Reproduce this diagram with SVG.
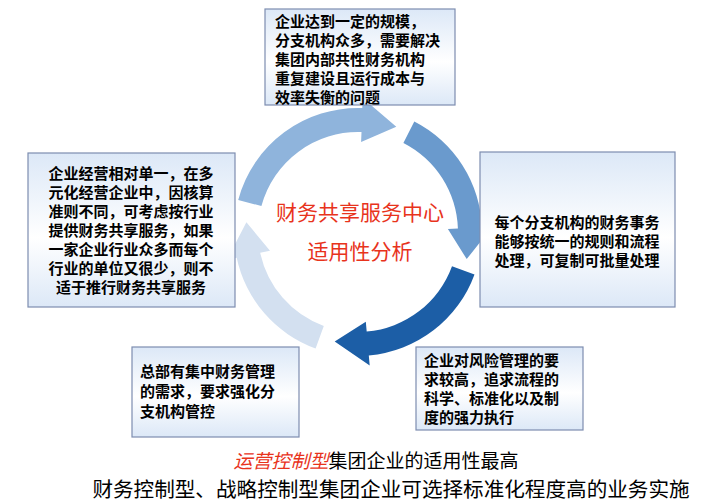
<svg xmlns="http://www.w3.org/2000/svg" width="705" height="502" viewBox="0 0 705 502">
<defs>
<linearGradient id="bg" x1="0" y1="0" x2="0" y2="1"><stop offset="0" stop-color="#dce8f7"/><stop offset="0.55" stop-color="#ffffff"/><stop offset="1" stop-color="#dce8f7"/></linearGradient>
<style>
.box{fill:url(#bg);stroke:#7d8db0;stroke-width:1.2}
.t{font-family:"Noto Sans CJK SC",sans-serif;font-weight:bold;font-size:15px;fill:#000}
.c{font-family:"Noto Sans CJK SC",sans-serif;font-size:21px;fill:#e8331c}
.b{font-family:"Noto Sans CJK SC",sans-serif;font-size:19px;fill:#000}
</style>
</defs>
<g id="connectors">
<path d="M238.2,199.9 A124,124 0 0 1 362.3,108.1 L362.7,98.1 L396.3,126.8 L361.1,142.1 L361.5,132.1 A100,100 0 0 0 261.4,206.1 Z" fill="#8fb4dc"/>
<path d="M414.3,121.5 A124,124 0 0 1 481.9,227.7 L491.9,227.3 L466.7,259.1 L447.9,228.9 L457.9,228.5 A100,100 0 0 0 403.4,142.9 Z" fill="#6a9acd"/>
<path d="M474.5,274.4 A124,124 0 0 1 368.8,355.5 L369.7,365.5 L334.7,341.5 L365.8,321.7 L366.7,331.6 A100,100 0 0 0 452.0,266.2 Z" fill="#1c5ea6"/>
<path d="M315.6,348.5 A124,124 0 0 1 236.7,257.8 L226.9,259.9 L246.4,222.2 L270.0,250.7 L260.2,252.8 A100,100 0 0 0 323.8,326.0 Z" fill="#d3e0f0"/>
</g>
<g id="center">
<text class="c" x="360" y="220" text-anchor="middle">财务共享服务中心</text>
<text class="c" x="360" y="259" text-anchor="middle">适用性分析</text>
</g>
<g id="top">
<rect class="box" x="265" y="9" width="190" height="96"/>
<text class="t" x="275" y="27">企业达到一定的规模，</text>
<text class="t" x="275" y="46">分支机构众多，需要解决</text>
<text class="t" x="275" y="65">集团内部共性财务机构</text>
<text class="t" x="275" y="84">重复建设且运行成本与</text>
<text class="t" x="275" y="103">效率失衡的问题</text>
</g>
<g id="left">
<rect class="box" x="28" y="153" width="207" height="154"/>
<text class="t" x="131" y="179" text-anchor="middle">企业经营相对单一，在多</text>
<text class="t" x="131" y="198" text-anchor="middle">元化经营企业中，因核算</text>
<text class="t" x="131" y="217" text-anchor="middle">准则不同，可考虑按行业</text>
<text class="t" x="131" y="236" text-anchor="middle">提供财务共享服务，如果</text>
<text class="t" x="131" y="255" text-anchor="middle">一家企业行业众多而每个</text>
<text class="t" x="131" y="274" text-anchor="middle">行业的单位又很少，则不</text>
<text class="t" x="131" y="293" text-anchor="middle">适于推行财务共享服务</text>
</g>
<g id="right">
<rect class="box" x="480" y="152" width="195" height="155"/>
<text class="t" x="577" y="228" text-anchor="middle">每个分支机构的财务事务</text>
<text class="t" x="577" y="247" text-anchor="middle">能够按统一的规则和流程</text>
<text class="t" x="577" y="266" text-anchor="middle">处理，可复制可批量处理</text>
</g>
<g id="bottomright">
<rect class="box" x="416" y="347" width="167" height="83"/>
<text class="t" x="424" y="366">企业对风险管理的要</text>
<text class="t" x="424" y="385">求较高，追求流程的</text>
<text class="t" x="424" y="404">科学、标准化以及制</text>
<text class="t" x="424" y="423">度的强力执行</text>
</g>
<g id="bottomleft">
<rect class="box" x="132" y="347" width="167" height="90"/>
<text class="t" x="140" y="377">总部有集中财务管理</text>
<text class="t" x="140" y="397">的需求，要求强化分</text>
<text class="t" x="140" y="417">支机构管控</text>
</g>
<g id="notes">
<text class="b" x="376" y="468" text-anchor="middle"><tspan fill="#e8331c" font-style="italic">运营控制型</tspan>集团企业的适用性最高</text>
<text class="b" x="391" y="497" text-anchor="middle" style="font-size:20.6px">财务控制型、战略控制型集团企业可选择标准化程度高的业务实施</text>
</g>
</svg>
